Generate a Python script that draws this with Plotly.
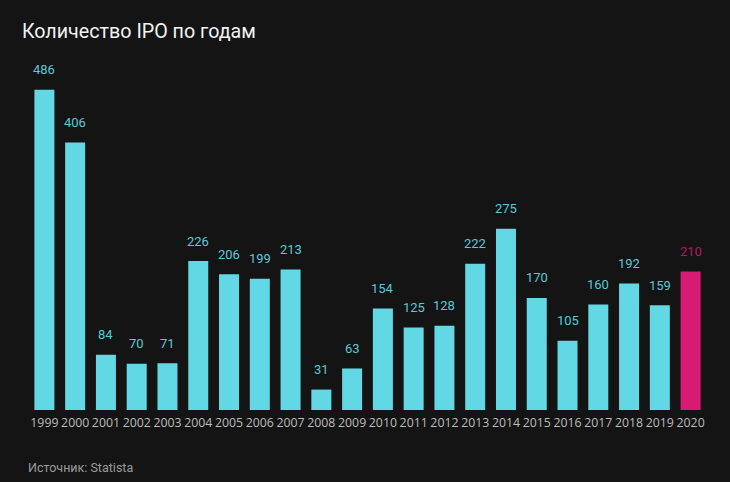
import plotly.graph_objects as go

# IPO counts per year
years = [str(y) for y in range(1999, 2021)]
ipo_counts = [486, 406, 84, 70, 71, 226, 206, 199, 213, 31, 63, 154,
              125, 128, 222, 275, 170, 105, 160, 192, 159, 210]
highlight_year = '2020'

bar_cyan = '#62d8e4'
label_cyan = '#5cc9d6'
bar_pink = '#d81b72'
label_pink = '#b51a61'

bar_colors = [bar_pink if y == highlight_year else bar_cyan for y in years]
label_colors = [label_pink if y == highlight_year else label_cyan for y in years]

fig = go.Figure(
    go.Bar(
        x=years,
        y=ipo_counts,
        marker=dict(color=bar_colors, line=dict(width=0)),
        hovertemplate='%{x}: %{y}<extra></extra>',
    )
)

# value labels above the bars (category axis -> position by index,
# numeric-looking strings would be read as positions otherwise)
for i, (v, c) in enumerate(zip(ipo_counts, label_colors)):
    fig.add_annotation(
        x=i, y=v, text=str(v), showarrow=False, yshift=20,
        font=dict(family='Roboto', size=13, color=c),
    )

fig.add_annotation(
    text='Источник: Statista', xref='paper', yref='paper',
    x=-0.005, y=-0.165, xanchor='left', yanchor='middle', showarrow=False,
    font=dict(family='Roboto', size=12.5, color='#9b9b9b'),
)

fig.update_layout(
    width=730, height=482,
    paper_bgcolor='#141414', plot_bgcolor='#141414',
    margin=dict(l=29, r=24, t=60, b=72),
    bargap=0.35,
    showlegend=False,
    title=dict(
        text='Количество IPO по годам', x=0.03, xanchor='left',
        y=0.935, yanchor='middle',
        font=dict(family='Roboto', size=19.7, color='#f2f2f2'),
    ),
    xaxis=dict(
        type='category', range=[-0.5, len(years) - 0.5],
        showgrid=False, zeroline=False, showline=False, ticks='',
        ticklabelstandoff=4,
        tickfont=dict(family='Open Sans', size=12.3, color='#bdbdbd'),
    ),
    yaxis=dict(
        range=[0, 531], visible=False, showgrid=False, zeroline=False,
    ),
)

# page body has a default margin; drop it so the chart fills the window
fig.write_html('out.html', config={'displayModeBar': False},
               post_script="document.body.style.margin='0';")
